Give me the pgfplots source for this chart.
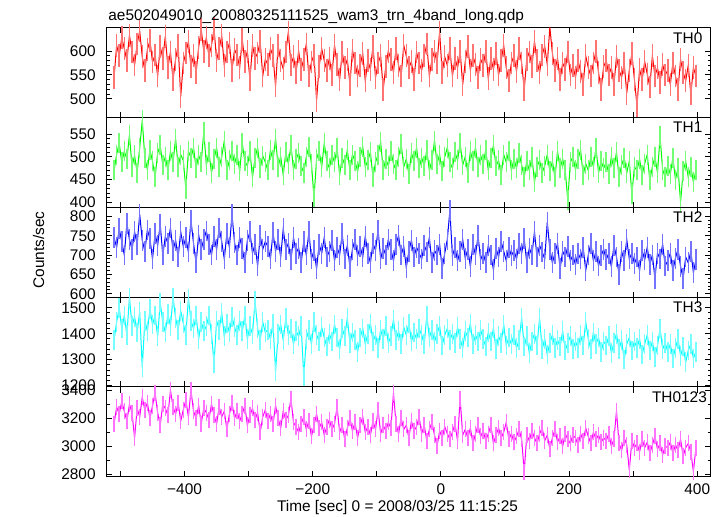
\documentclass[border=0pt]{standalone}
\usepackage{fontspec}
\setmainfont{Liberation Sans}
\usepackage{pgfplots}
\usepackage{pgfplotstable}
\pgfplotsset{compat=1.18}

\definecolor{qred}{RGB}{255,0,0}
\definecolor{qgreen}{RGB}{0,255,0}
\definecolor{qblue}{RGB}{0,0,255}
\definecolor{qcyan}{RGB}{0,255,255}
\definecolor{qmag}{RGB}{255,0,255}

% light curves, 4 s bins starting at t=-510 s
\pgfplotstableread[header=false,row sep=\\]{
545\\612\\590\\628\\605\\580\\633\\598\\571\\615\\642\\588\\
560\\603\\622\\577\\592\\548\\610\\585\\631\\566\\598\\540\\
583\\612\\505\\575\\596\\620\\568\\590\\555\\608\\645\\600\\
628\\590\\612\\647\\581\\605\\632\\570\\598\\617\\560\\603\\
592\\565\\625\\578\\600\\540\\612\\585\\596\\620\\548\\583\\
572\\605\\590\\527\\612\\580\\563\\598\\640\\571\\588\\555\\
600\\562\\583\\615\\548\\577\\592\\497\\568\\605\\580\\560\\
585\\550\\612\\572\\540\\598\\565\\583\\530\\602\\575\\548\\
570\\595\\538\\580\\562\\610\\545\\575\\590\\520\\568\\600\\
583\\556\\605\\570\\548\\612\\590\\565\\578\\540\\598\\575\\
560\\590\\615\\548\\582\\600\\575\\640\\555\\588\\570\\605\\
548\\585\\565\\600\\530\\578\\610\\560\\590\\572\\545\\583\\
570\\600\\542\\585\\562\\595\\550\\580\\612\\565\\538\\575\\
590\\558\\605\\575\\520\\583\\598\\568\\620\\580\\555\\592\\
610\\572\\650\\595\\560\\585\\540\\575\\562\\598\\550\\570\\
545\\580\\558\\530\\590\\565\\548\\575\\600\\555\\520\\568\\
580\\550\\565\\530\\588\\560\\545\\575\\512\\560\\595\\540\\
485\\562\\540\\578\\552\\525\\590\\548\\565\\535\\572\\550\\
560\\530\\575\\548\\520\\582\\555\\538\\570\\510\\565\\548\\
}\thzero

\pgfplotstableread[header=false,row sep=\\]{
470\\505\\530\\488\\512\\495\\548\\478\\503\\465\\520\\580\\
498\\472\\515\\490\\455\\508\\525\\482\\500\\470\\512\\488\\
540\\478\\505\\492\\430\\512\\498\\520\\475\\503\\488\\555\\
482\\510\\465\\495\\520\\478\\500\\535\\470\\492\\512\\485\\
505\\468\\530\\490\\480\\512\\455\\498\\520\\475\\502\\488\\
470\\515\\492\\540\\478\\500\\460\\510\\485\\525\\472\\495\\
508\\480\\465\\500\\522\\485\\410\\495\\512\\478\\530\\490\\
475\\505\\488\\520\\460\\498\\482\\515\\470\\505\\490\\468\\
500\\522\\478\\492\\510\\455\\488\\505\\532\\470\\495\\480\\
512\\485\\470\\500\\528\\478\\495\\462\\508\\490\\520\\475\\
498\\480\\515\\470\\492\\535\\485\\505\\468\\500\\520\\488\\
475\\510\\492\\530\\482\\500\\465\\512\\490\\520\\478\\503\\
485\\515\\470\\498\\525\\480\\492\\460\\505\\488\\512\\470\\
495\\475\\508\\482\\455\\490\\470\\500\\445\\478\\492\\465\\
480\\505\\468\\490\\455\\512\\475\\495\\470\\405\\488\\500\\
472\\495\\515\\460\\485\\470\\500\\478\\520\\465\\490\\475\\
488\\462\\500\\475\\510\\455\\482\\498\\465\\490\\418\\478\\
470\\495\\460\\485\\505\\448\\478\\500\\465\\545\\472\\455\\
480\\462\\498\\450\\475\\400\\468\\490\\455\\478\\445\\470\\
}\thone

\pgfplotstableread[header=false,row sep=\\]{
745\\720\\768\\735\\700\\782\\740\\715\\760\\728\\805\\738\\
710\\765\\742\\690\\755\\725\\780\\700\\748\\730\\770\\712\\
738\\695\\760\\722\\745\\708\\790\\730\\680\\752\\715\\740\\
762\\728\\700\\748\\715\\770\\735\\690\\755\\720\\805\\732\\
700\\745\\718\\680\\738\\760\\705\\728\\672\\750\\715\\735\\
722\\690\\758\\710\\740\\695\\768\\715\\730\\688\\745\\705\\
718\\680\\735\\700\\760\\690\\712\\665\\728\\705\\745\\695\\
710\\738\\685\\720\\700\\755\\690\\725\\670\\715\\740\\698\\
722\\695\\748\\705\\680\\730\\712\\765\\690\\718\\700\\740\\
715\\685\\728\\750\\700\\722\\668\\710\\738\\695\\720\\705\\
690\\725\\708\\745\\680\\712\\700\\728\\665\\705\\740\\815\\
698\\720\\685\\710\\740\\692\\715\\670\\728\\700\\750\\688\\
705\\680\\725\\700\\662\\718\\695\\735\\710\\685\\720\\698\\
712\\690\\730\\705\\742\\680\\718\\700\\760\\695\\725\\708\\
690\\785\\715\\680\\705\\730\\665\\710\\695\\722\\685\\700\\
675\\705\\690\\720\\660\\700\\730\\685\\710\\672\\698\\715\\
688\\705\\670\\725\\695\\650\\710\\685\\740\\690\\705\\678\\
695\\660\\712\\688\\720\\675\\700\\640\\705\\690\\728\\672\\
685\\705\\660\\692\\715\\670\\640\\695\\680\\710\\655\\688\\
}\thtwo

\pgfplotstableread[header=false,row sep=\\]{
1375\\1445\\1500\\1420\\1470\\1395\\1540\\1430\\1465\\1405\\1485\\1270\\
1450\\1410\\1495\\1435\\1470\\1390\\1520\\1445\\1405\\1475\\1430\\1540\\
1460\\1415\\1488\\1440\\1395\\1535\\1450\\1420\\1470\\1380\\1445\\1410\\
1430\\1470\\1400\\1285\\1450\\1415\\1480\\1390\\1440\\1405\\1465\\1425\\
1395\\1450\\1410\\1470\\1380\\1430\\1400\\1525\\1420\\1375\\1445\\1405\\
1415\\1380\\1440\\1255\\1400\\1435\\1375\\1460\\1395\\1420\\1360\\1410\\
1390\\1430\\1235\\1380\\1415\\1360\\1445\\1395\\1370\\1425\\1385\\1350\\
1400\\1370\\1435\\1385\\1340\\1420\\1390\\1460\\1365\\1405\\1375\\1330\\
1385\\1420\\1360\\1400\\1440\\1370\\1395\\1345\\1415\\1380\\1430\\1365\\
1390\\1455\\1375\\1410\\1360\\1425\\1395\\1440\\1370\\1405\\1380\\1420\\
1395\\1360\\1470\\1385\\1415\\1370\\1400\\1430\\1355\\1395\\1420\\1375\\
1400\\1365\\1425\\1380\\1345\\1410\\1385\\1440\\1360\\1395\\1370\\1415\\
1380\\1350\\1405\\1370\\1420\\1340\\1390\\1365\\1435\\1355\\1385\\1360\\
1395\\1345\\1375\\1460\\1350\\1390\\1325\\1370\\1400\\1355\\1460\\1340\\
1380\\1320\\1365\\1395\\1345\\1375\\1350\\1410\\1335\\1365\\1390\\1340\\
1370\\1345\\1395\\1355\\1445\\1380\\1340\\1405\\1360\\1385\\1330\\1370\\
1355\\1390\\1325\\1365\\1400\\1340\\1375\\1300\\1360\\1385\\1335\\1370\\
1345\\1380\\1320\\1360\\1395\\1335\\1370\\1310\\1355\\1420\\1340\\1365\\
1330\\1360\\1305\\1345\\1380\\1315\\1350\\1290\\1335\\1360\\1305\\1330\\
}\ththree

\pgfplotstableread[header=false,row sep=\\]{
3160\\3280\\3230\\3320\\3250\\3180\\3300\\3240\\3060\\3270\\3210\\3350\\
3260\\3310\\3200\\3290\\3380\\3240\\3150\\3300\\3270\\3220\\3400\\3280\\
3230\\3310\\3180\\3260\\3330\\3210\\3400\\3250\\3200\\3290\\3160\\3270\\
3240\\3190\\3300\\3220\\3160\\3280\\3210\\3250\\3120\\3230\\3310\\3200\\
3250\\3180\\3230\\3290\\3150\\3220\\3270\\3190\\3240\\3100\\3210\\3260\\
3180\\3230\\3160\\3290\\3200\\3130\\3250\\3190\\3220\\3340\\3170\\3140\\
3100\\3160\\3210\\3120\\3180\\3070\\3150\\3230\\3130\\3170\\3080\\3140\\
3190\\3120\\3160\\3280\\3100\\3150\\3050\\3130\\3200\\3110\\3170\\3060\\
3150\\3210\\3100\\3140\\3080\\3180\\3120\\3260\\3090\\3150\\3110\\3170\\
3130\\3380\\3160\\3090\\3200\\3120\\3150\\3060\\3180\\3110\\3140\\3210\\
3090\\3150\\3040\\3120\\3170\\3080\\3000\\3110\\3060\\3140\\3090\\3050\\
3100\\3160\\3040\\3340\\3080\\3120\\3060\\3130\\3020\\3090\\3150\\3070\\
3110\\3040\\3090\\3150\\3020\\3080\\3130\\3060\\3100\\3170\\3050\\3090\\
3030\\3070\\3120\\3050\\2820\\3080\\3040\\3110\\3060\\3020\\3090\\3130\\
3040\\3080\\2980\\3060\\3120\\3030\\3070\\3000\\3090\\3050\\3020\\3080\\
3060\\3010\\3090\\3040\\3130\\3070\\3020\\3100\\3050\\3080\\3030\\3060\\
3040\\3090\\3000\\3050\\3250\\3020\\2970\\3060\\3010\\2830\\3040\\2990\\
3020\\2960\\3050\\2990\\3030\\2950\\3010\\3070\\2980\\3020\\2940\\3000\\
2990\\3030\\2950\\3010\\2970\\3050\\2930\\2990\\3020\\2960\\2820\\2990\\
}\thall

\newcommand{\lcfont}{\fontsize{7.7}{9}\selectfont}

\pgfplotsset{
  panel/.style={
    scale only axis, width=302pt, height=44.9pt, anchor=south west,
    xmin=-521.5, xmax=421,
    axis line style={line width=0.55pt, black},
    tick style={black, line width=0.5pt},
    tick align=inside, xtick pos=both, ytick pos=both, yticklabel pos=left,
    xtick={-500,-400,...,400}, xticklabels={},
    major tick length=2.8pt, minor tick length=1.5pt,
    tick label style={font=\lcfont},
    /pgf/number format/assume math mode=true,
    /pgf/number format/1000 sep={},
    yticklabel style={xshift=-2pt},
  },
  % light 1-sigma bars drawn as vertical-bar marks (half length = error in pt)
  ebar/.style 2 args={forget plot, only marks, mark=|, mark size=#1,
    mark options={draw=#2, line width=0.75pt}},
  lc/.style={mark=none, sharp plot, line width=0.5pt, draw=#1},
}

\begin{document}
\begin{tikzpicture}
\useasboundingbox (0,0) rectangle (361.5pt,258pt);

% TH0  (error 24 c/s)
\begin{axis}[panel, at={(53.35pt,199.25pt)}, ymin=461, ymax=649,
  ytick={500,550,600}, minor y tick num=4]
\addplot[ebar={5.7pt}{qred!55}]
  table[x expr=\coordindex*4-510, y index=0]{\thzero};
\addplot[lc=qred] table[x expr=\coordindex*4-510, y index=0]{\thzero};
\node[anchor=north east, inner sep=0pt, font=\lcfont, yshift=-2.1pt] at (rel axis cs:0.9868,1) {TH0};
\end{axis}

% TH1  (error 22 c/s)
\begin{axis}[panel, at={(53.35pt,154.35pt)}, ymin=389, ymax=586.4,
  ytick={400,450,500,550}, minor y tick num=4]
\addplot[ebar={5.0pt}{qgreen!55}]
  table[x expr=\coordindex*4-510, y index=0]{\thone};
\addplot[lc=qgreen] table[x expr=\coordindex*4-510, y index=0]{\thone};
\node[anchor=north east, inner sep=0pt, font=\lcfont, yshift=-2.1pt] at (rel axis cs:0.9868,1) {TH1};
\end{axis}

% TH2  (error 27 c/s)
\begin{axis}[panel, at={(53.35pt,109.45pt)}, ymin=591.4, ymax=823.4,
  ytick={600,650,...,800}, minor y tick num=4]
\addplot[ebar={5.2pt}{qblue!55}]
  table[x expr=\coordindex*4-510, y index=0]{\thtwo};
\addplot[lc=qblue] table[x expr=\coordindex*4-510, y index=0]{\thtwo};
\node[anchor=north east, inner sep=0pt, font=\lcfont, yshift=-2.1pt] at (rel axis cs:0.9868,1) {TH2};
\end{axis}

% TH3  (error 38 c/s)
\begin{axis}[panel, at={(53.35pt,64.55pt)}, ymin=1195, ymax=1541,
  ytick={1200,1300,1400,1500}, minor y tick num=4]
\addplot[ebar={4.9pt}{qcyan!55}]
  table[x expr=\coordindex*4-510, y index=0]{\ththree};
\addplot[lc=qcyan] table[x expr=\coordindex*4-510, y index=0]{\ththree};
\node[anchor=north east, inner sep=0pt, font=\lcfont, yshift=-2.1pt] at (rel axis cs:0.9868,1) {TH3};
\end{axis}

% TH0123  (error 57 c/s)
\begin{axis}[panel, at={(53.35pt,19.65pt)}, ymin=2783, ymax=3423.5,
  ytick={2800,3000,3200,3400}, minor y tick num=1,
  xticklabels={,−400,,−200,,0,,200,,400}]
\addplot[ebar={4.0pt}{qmag!55}]
  table[x expr=\coordindex*4-510, y index=0]{\thall};
\addplot[lc=qmag] table[x expr=\coordindex*4-510, y index=0]{\thall};
\node[anchor=north east, inner sep=0pt, font=\lcfont, yshift=-2.2pt] at (rel axis cs:0.9943,1) {TH0123};
\end{axis}

\node[anchor=base west, inner sep=0pt, font=\lcfont] at (54pt,247.75pt)
  {ae502049010\_20080325111525\_wam3\_trn\_4band\_long.qdp};
\node[anchor=base, inner sep=0pt, font=\lcfont] at (198.75pt,2.5pt)
  {Time [sec] 0 = 2008/03/25 11:15:25};
\node[anchor=base, inner sep=0pt, rotate=90, font=\lcfont] at (22pt,133pt)
  {Counts/sec};
\end{tikzpicture}
\end{document}
